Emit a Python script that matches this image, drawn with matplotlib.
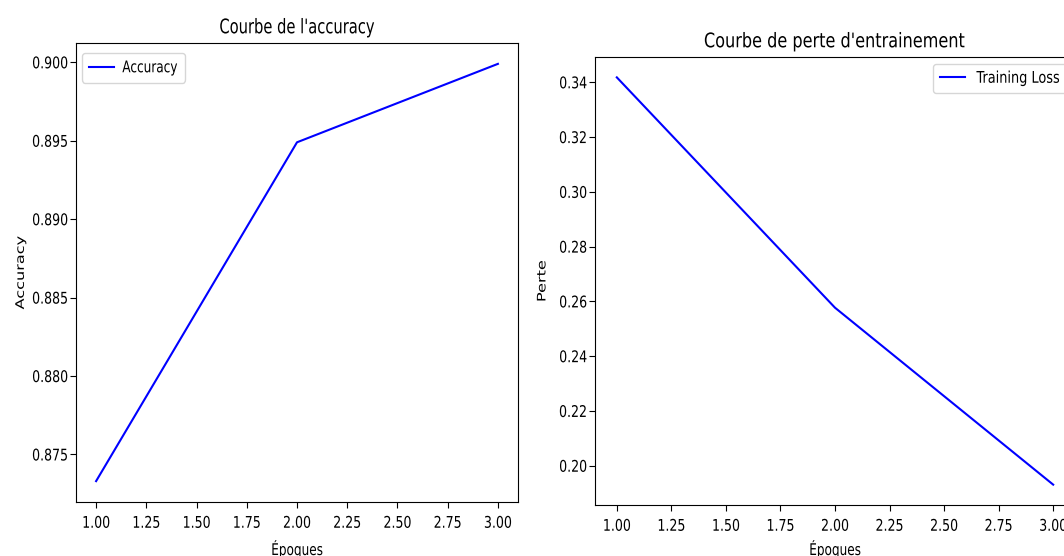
import matplotlib
matplotlib.use("Agg")
import matplotlib.pyplot as plt
from matplotlib.patheffects import AbstractPathEffect
from matplotlib.transforms import Affine2D, Bbox
from matplotlib.path import Path

# ---------------- data ----------------
epochs = [1, 2, 3]
accuracy = [0.8733, 0.8949, 0.8999]
train_loss = [0.3418, 0.2577, 0.1931]

x_ticks = [1.00, 1.25, 1.50, 1.75, 2.00, 2.25, 2.50, 2.75, 3.00]
acc_ticks = [0.875, 0.880, 0.885, 0.890, 0.895, 0.900]
loss_ticks = [0.20, 0.22, 0.24, 0.26, 0.28, 0.30, 0.32, 0.34]

title_acc = "Courbe de l'accuracy"
title_loss = "Courbe de perte d'entrainement"
xlabel = "Époques"
ylabel_acc = "Accuracy"
ylabel_loss = "Perte"
legend_acc = "Accuracy"
legend_loss = "Training Loss"

# ---------------- style helpers ----------------
FS = 11.6          # label / tick / legend size
FS_TITLE = 14.5


class Squash(AbstractPathEffect):
    """Condense text horizontally around an anchor of its ink box."""

    def __init__(self, sx, anchor="center"):
        super().__init__((0, 0))
        self._sx = sx
        self._anchor = anchor

    def draw_path(self, renderer, gc, tpath, affine, rgbFace=None):
        verts = tpath.vertices
        codes = tpath.codes
        if codes is not None:
            verts = verts[codes != Path.CLOSEPOLY]
        if len(verts) == 0:
            renderer.draw_path(gc, tpath, affine, rgbFace)
            return
        pts = affine.transform(verts)
        xmin, xmax = pts[:, 0].min(), pts[:, 0].max()
        x0 = {"center": 0.5 * (xmin + xmax), "left": xmin, "right": xmax}[self._anchor]
        new_aff = affine + Affine2D().translate(-x0, 0).scale(self._sx, 1.0).translate(x0, 0)
        renderer.draw_path(gc, tpath, new_aff, rgbFace)


def squash_layout(text, sx):
    orig = text._get_layout

    def patched(renderer, _orig=orig):
        bbox, info, descent = _orig(renderer)
        x0, y0, w, h = bbox.bounds
        return Bbox.from_bounds(x0, y0, w * sx, h), info, descent

    text._get_layout = patched


def squash_extent(text, sx, anchor):
    orig = text.get_window_extent

    def patched(renderer=None, dpi=None, _orig=orig):
        bb = _orig(renderer=renderer, dpi=dpi)
        x0, x1 = bb.x0, bb.x1
        a = {"center": 0.5 * (x0 + x1), "left": x0, "right": x1}[anchor]
        return Bbox([[a + (x0 - a) * sx, bb.y0], [a + (x1 - a) * sx, bb.y1]])

    text.get_window_extent = patched


def condense(text, sx, anchor):
    text.set_path_effects([Squash(sx, anchor=anchor)])
    squash_extent(text, sx, anchor)


plt.rcParams["font.family"] = ["DejaVu Sans"]

fig = plt.figure(figsize=(10.64, 5.56), dpi=100, facecolor="white")

W, H = 1064.0, 556.0
# axes boxes in pixels: left, bottom(from top), right, top(from top)
L1 = (76, 502, 518, 43)
L2 = (595, 505, 1075, 57)


def add_axes(box):
    l, b, r, t = box
    return fig.add_axes([l / W, (H - b) / H, (r - l) / W, (b - t) / H])


ax1 = add_axes(L1)
ax2 = add_axes(L2)


def px_to_axes(box, px, py):
    l, b, r, t = box
    return (px - l) / (r - l), (b - py) / (b - t)


def style_axes(ax, box, yticks, title, ylab, leg_label, y_values, leg_px,
               ylab_px, sx_tick, sx_title, sx_leg, textpad):
    ax.plot(epochs, y_values, color="blue", lw=1.5, label=leg_label)
    ax.set_xticks(x_ticks)
    ax.set_yticks(yticks)
    ax.tick_params(axis="x", labelsize=FS, length=4.3, pad=5.6, width=0.8)
    ax.tick_params(axis="y", labelsize=FS, length=4.0, pad=1.5, width=0.8)
    for lbl in ax.get_xticklabels():
        condense(lbl, sx_tick, "center")
    for lbl in ax.get_yticklabels():
        condense(lbl, sx_tick, "right")

    t = ax.set_title(title, fontsize=FS_TITLE, pad=7.0)
    condense(t, sx_title, "center")

    xl = ax.set_xlabel(xlabel, fontsize=FS)
    condense(xl, 0.75, "center")
    ax.xaxis.set_label_coords(0.5, px_to_axes(box, 0, 540)[1])

    yl = ax.set_ylabel(ylab, fontsize=FS)
    condense(yl, 0.73, "center")
    ax.yaxis.set_label_coords(px_to_axes(box, ylab_px, 0)[0], 0.5)

    leg = ax.legend(loc="upper left", bbox_to_anchor=px_to_axes(box, *leg_px),
                    borderaxespad=0, fontsize=FS, handlelength=1.55,
                    handletextpad=textpad, borderpad=0.45)
    for txt in leg.get_texts():
        txt.set_path_effects([Squash(sx_leg, anchor="left")])
        squash_layout(txt, sx_leg)
    return ax


style_axes(ax1, L1, acc_ticks, title_acc, ylabel_acc, legend_acc, accuracy,
           leg_px=(82, 53), ylab_px=28, sx_tick=0.78, sx_title=0.73, sx_leg=0.75,
           textpad=0.5)
style_axes(ax2, L2, loss_ticks, title_loss, ylabel_loss, legend_loss, train_loss,
           leg_px=(933, 63.5), ylab_px=550, sx_tick=0.78, sx_title=0.8, sx_leg=0.8,
           textpad=0.7)

fig.savefig("out.png", dpi=100, facecolor="white")
